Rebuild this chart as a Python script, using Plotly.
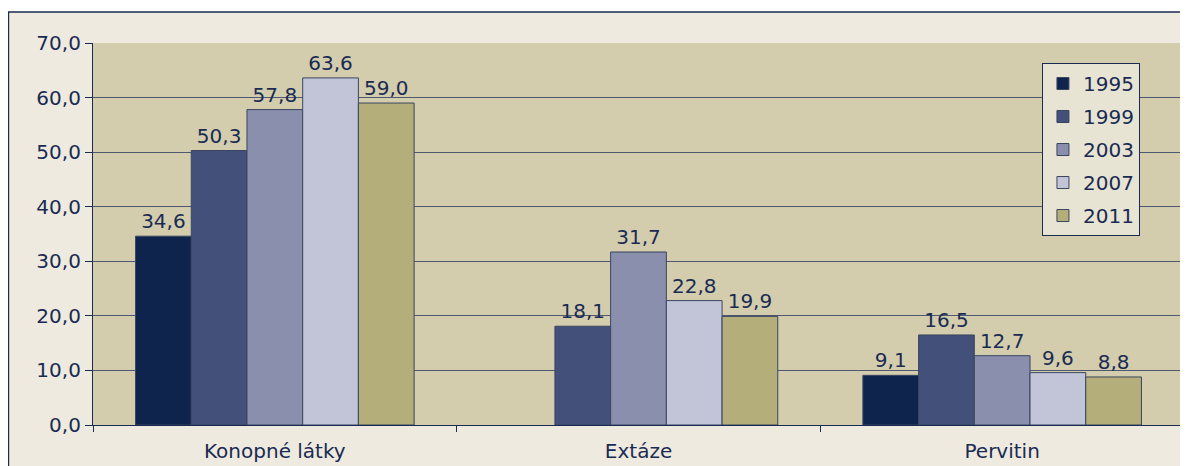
import plotly.graph_objects as go

categories = ["Konopné látky", "Extáze", "Pervitin"]
years = ["1995", "1999", "2003", "2007", "2011"]
v1995 = [34.6, None, 9.1]
v1999 = [50.3, 18.1, 16.5]
v2003 = [57.8, 31.7, 12.7]
v2007 = [63.6, 22.8, 9.6]
v2011 = [59.0, 19.9, 8.8]
series = [v1995, v1999, v2003, v2007, v2011]
colors = ["#0f244d", "#43517a", "#8a8fae", "#c2c5d8", "#b3ae7a"]
y_ticks = [0, 10, 20, 30, 40, 50, 60, 70]

NAVY = "#1a2b52"
FONT = "DejaVu Sans"
FS = 20

fig = go.Figure()
for name, vals, col in zip(years, series, colors):
    fig.add_trace(go.Bar(
        x=categories, y=vals, name=name, legendgroup=name,
        marker=dict(color=col, line=dict(color="#3a4560", width=1)),
        texttemplate="%{y:.1f}", textposition="outside", cliponaxis=False,
        textfont=dict(family=FONT, size=FS, color=NAVY),
    ))

# page body has an 8px margin, so the figure is sized/offset to compensate
fig.update_layout(
    width=1180, height=458,
    margin=dict(l=85, r=4, t=35, b=41),
    paper_bgcolor="white",
    plot_bgcolor="rgba(0,0,0,0)",
    separators=",.",
    barmode="group", bargap=0.234, bargroupgap=0,
    font=dict(family=FONT, size=FS, color=NAVY),
    showlegend=True,
    legend=dict(
        x=0.8698, y=0.9476, xanchor="left", yanchor="top",
        bgcolor="#e8e4d4", bordercolor=NAVY, borderwidth=1,
        font=dict(family=FONT, size=FS, color=NAVY),
        tracegroupgap=4, itemwidth=30,
    ),
    shapes=[
        dict(type="rect", xref="paper", yref="paper", x0=-0.0775, x1=1.05, y0=-0.3, y1=1.0812,
             fillcolor="#eeeadf", line=dict(color=NAVY, width=1.5), layer="below"),
        dict(type="rect", xref="paper", yref="paper", x0=0, x1=1, y0=0, y1=1,
             fillcolor="#d3cdae", line=dict(width=0), layer="below"),
        dict(type="line", xref="paper", yref="paper", x0=1, x1=1, y0=-0.02, y1=1,
             line=dict(color="#6a7080", width=1.5), layer="above"),
    ],
)
fig.update_xaxes(
    showline=True, linecolor=NAVY, linewidth=1.2, mirror=False,
    ticks="outside", tickson="boundaries", ticklen=6, tickcolor=NAVY,
    tickfont=dict(family=FONT, size=FS, color=NAVY),
    ticklabelstandoff=8,
    showgrid=False,
)
fig.update_yaxes(
    range=[0, 70], tickvals=y_ticks, tickformat=".1f",
    showline=True, linecolor=NAVY, linewidth=1.2,
    ticks="outside", ticklen=7, tickcolor=NAVY,
    tickfont=dict(family=FONT, size=FS, color=NAVY),
    showgrid=True, gridcolor="#4e5870", gridwidth=1,
    zeroline=False,
)
fig.write_html("out.html")
